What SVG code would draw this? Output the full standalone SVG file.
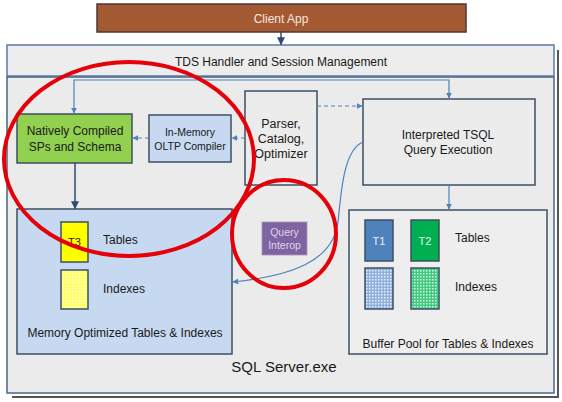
<svg xmlns="http://www.w3.org/2000/svg" width="562" height="402" viewBox="0 0 562 402">
<style>
text{font-family:"Liberation Sans",Arial,sans-serif;fill:#1a1a1a}
.box{stroke:#3c4f63;stroke-width:1.5}
.gray{fill:#ececec}
.c{stroke:#4f81bd;stroke-width:1.2;fill:none}
.dk{stroke:#2e4a6e;stroke-width:1.5;fill:none}
.dash{stroke-dasharray:4 3}
.red{fill:none;stroke:#e5000a;stroke-width:4}
</style>
<defs>
<marker id="ab" viewBox="0 0 10 10" refX="9" refY="5" markerWidth="6" markerHeight="6" markerUnits="userSpaceOnUse" orient="auto"><path d="M0,0 L10,5 L0,10 z" fill="#4f81bd"/></marker>
<marker id="ad" viewBox="0 0 10 10" refX="9" refY="5" markerWidth="8" markerHeight="8" markerUnits="userSpaceOnUse" orient="auto"><path d="M0,0 L10,5 L0,10 z" fill="#2e4a6e"/></marker>
<pattern id="py" width="3" height="3" patternUnits="userSpaceOnUse"><rect width="3" height="3" fill="#ffff66"/><rect width="1.5" height="1.5" fill="#ffffcc"/></pattern>
<pattern id="pb" width="3" height="3" patternUnits="userSpaceOnUse"><rect width="3" height="3" fill="#8fb0dc"/><rect width="1.5" height="1.5" fill="#e8effa"/></pattern>
<pattern id="pg" width="3" height="3" patternUnits="userSpaceOnUse"><rect width="3" height="3" fill="#3fcb7f"/><rect width="1.5" height="1.5" fill="#d8f6e4"/></pattern>
</defs>

<g id="server">
<path d="M558,50 V397 H12" fill="none" stroke="#555" stroke-width="2"/>
<rect x="7" y="45" width="547" height="31" fill="#ededed" stroke="#5b7ba4" stroke-width="1.5"/>
<text x="281" y="66" font-size="12" text-anchor="middle">TDS Handler and Session Management</text>
<rect x="7" y="77" width="547" height="316" fill="#ebebeb" stroke="#4a6688" stroke-width="1.5"/>
<text x="284" y="372" font-size="15" text-anchor="middle">SQL Server.exe</text>
</g>

<g id="client">
<rect x="97" y="4" width="369" height="28" fill="#a35a32" stroke="#4a3a33" stroke-width="1.5"/>
<text x="281" y="23" font-size="12" text-anchor="middle" style="fill:#f6e6dc">Client App</text>
</g>

<g id="natively">
<rect class="box" x="17" y="114" width="115" height="49" fill="#92d050"/>
<text x="75" y="135" font-size="12" text-anchor="middle">Natively Compiled</text>
<text x="75" y="151" font-size="12" text-anchor="middle">SPs and Schema</text>
</g>

<g id="compiler">
<rect class="box" x="149" y="115" width="82" height="47" fill="#c6d9f1"/>
<text x="190" y="136" font-size="10.5" text-anchor="middle">In-Memory</text>
<text x="190" y="150" font-size="10.5" text-anchor="middle">OLTP Compiler</text>
</g>

<g id="parser">
<rect class="box gray" x="245" y="91" width="72" height="94"/>
<text x="281" y="128" font-size="12.5" text-anchor="middle">Parser,</text>
<text x="281" y="143" font-size="12.5" text-anchor="middle">Catalog,</text>
<text x="281" y="158" font-size="12.5" text-anchor="middle">Optimizer</text>
</g>

<g id="interpreted">
<rect class="box gray" x="363" y="99" width="172" height="86"/>
<text x="448" y="139" font-size="12" text-anchor="middle">Interpreted TSQL</text>
<text x="448" y="154" font-size="12" text-anchor="middle">Query Execution</text>
</g>

<g id="memory">
<rect class="box" x="17" y="209" width="215" height="145" fill="#c6d9f1"/>
<rect class="box" x="61" y="222" width="27" height="40" fill="#ffff00"/>
<text x="74.5" y="246" font-size="11" text-anchor="middle">T3</text>
<text x="103" y="244" font-size="12">Tables</text>
<rect class="box" x="61" y="270" width="27" height="39" fill="url(#py)"/>
<text x="103" y="293" font-size="12">Indexes</text>
<text x="125" y="337" font-size="12" text-anchor="middle">Memory Optimized Tables &amp; Indexes</text>
</g>

<g id="interop">
<rect x="262" y="222" width="45" height="33" fill="#8064a2" stroke="#a493bd" stroke-width="0.8"/>
<text x="284.5" y="236" font-size="10.5" text-anchor="middle" style="fill:#ddd3ea">Query</text>
<text x="284.5" y="249" font-size="10.5" text-anchor="middle" style="fill:#ddd3ea">Interop</text>
</g>

<g id="bufferpool">
<rect class="box" x="349" y="210" width="198" height="144" fill="#eeeeee"/>
<rect class="box" x="365" y="220" width="28" height="41" fill="#4f81bd"/>
<text x="379" y="245" font-size="11" text-anchor="middle" style="fill:#e8eef8">T1</text>
<rect class="box" x="411" y="220" width="28" height="41" fill="#00b050"/>
<text x="425" y="245" font-size="11" text-anchor="middle" style="fill:#e0f5e8">T2</text>
<text x="455" y="242" font-size="12">Tables</text>
<rect class="box" x="365" y="268" width="28" height="41" fill="url(#pb)"/>
<rect class="box" x="411" y="268" width="28" height="41" fill="url(#pg)"/>
<text x="455" y="291" font-size="12">Indexes</text>
<text x="448" y="348" font-size="12" text-anchor="middle">Buffer Pool for Tables &amp; Indexes</text>
</g>

<g id="connectors">
<path class="dk" d="M281,32 V44.5" marker-end="url(#ad)"/>
<path class="c" d="M281,80 H74 V113" marker-end="url(#ab)"/>
<path class="c" d="M281,80 H449 V98" marker-end="url(#ab)"/>
<path class="c dash" d="M245,138 H232" marker-end="url(#ab)"/>
<path class="c dash" d="M149,138 H133" marker-end="url(#ab)"/>
<path class="c dash" d="M317,106 H362" marker-end="url(#ab)"/>
<path class="dk" d="M75,163 V208.5" marker-end="url(#ad)"/>
<path class="c" d="M449,185 V209" marker-end="url(#ab)"/>
<path class="c" d="M363,142 C343,150 341,195 338,222 C333,262 290,276 233,282" marker-end="url(#ab)"/>
</g>

<g id="highlights">
<ellipse class="red" cx="129" cy="159" rx="125" ry="97"/>
<ellipse class="red" cx="284" cy="234" rx="52" ry="54"/>
</g>
</svg>
